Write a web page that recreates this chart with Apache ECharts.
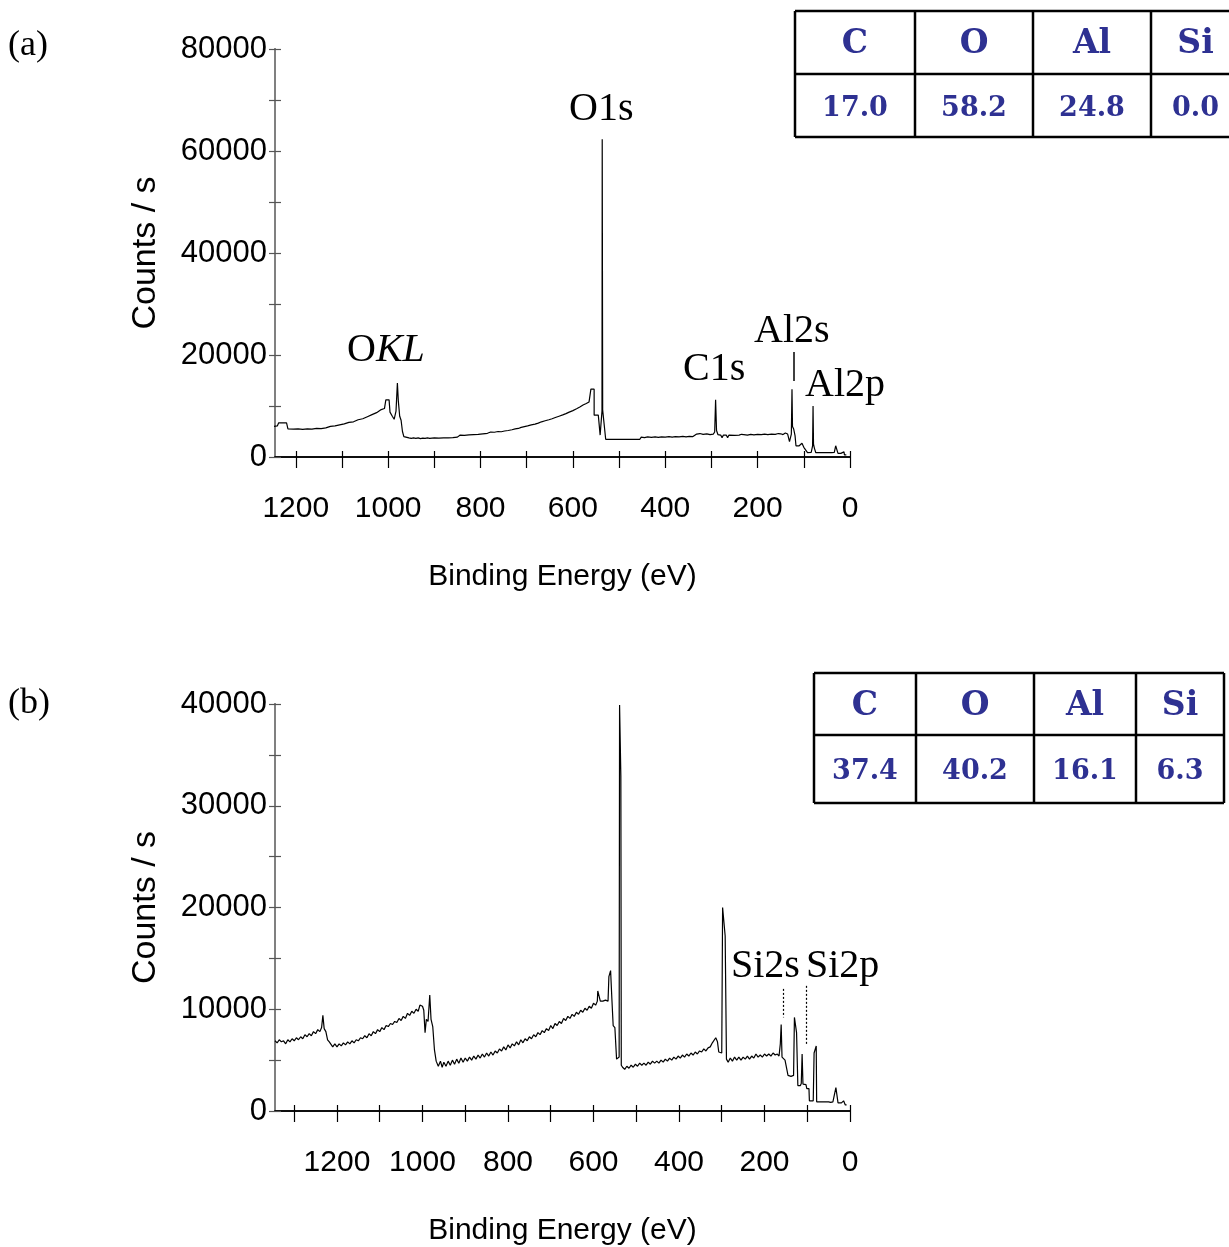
<!DOCTYPE html>
<html>
<head>
<meta charset="utf-8">
<script src="https://cdn.jsdelivr.net/npm/echarts@6/dist/echarts.min.js"></script>
<style>
html,body{margin:0;padding:0;background:#fff;}
#chart{width:1229px;height:1247px;}
</style>
</head>
<body>
<div id="chart"></div>
<script>
// ---------- DATA ----------
// Panel (a): binding energy (eV) vs counts/s
const spectrumA = [
[1248,6000],[1240,6100],[1237,6700],[1226,6700],[1220,6700],[1217,5500],[1205,5450],[1195,5500],[1185,5400],[1175,5500],
[1165,5450],[1155,5600],[1145,5550],[1135,5700],[1125,6000],[1115,6100],[1105,6300],[1095,6500],[1085,6800],[1075,6900],
[1065,7300],[1055,7500],[1045,7900],[1035,8300],[1025,8700],[1015,9300],[1008,9500],[1005,11200],[998,11200],[996,8800],
[991,8000],[987,7400],[983,9000],[980,14500],[978,11000],[975,8000],[972,7200],[969,5000],[966,4000],[962,3700],
[955,3750],[950,3650],[945,3750],[940,3650],[935,3750],[930,3600],[925,3700],[920,3650],[915,3750],[910,3650],
[905,3700],[900,3750],[890,3700],[880,3750],[870,3750],[860,3800],[850,3900],[844,4300],[835,4250],[825,4350],
[815,4400],[805,4450],[795,4550],[785,4650],[778,4900],[770,4850],[762,5000],[755,4950],[748,5100],[740,5200],
[732,5350],[725,5500],[718,5600],[712,5800],[705,5950],[698,6100],[690,6300],[682,6450],[675,6650],[668,6900],
[660,7100],[652,7300],[645,7500],[638,7750],[630,8000],[622,8250],[615,8500],[608,8800],[600,9100],[592,9450],
[585,9800],[578,10200],[571,10500],[565,10800],[561,11000],[561,13300],[554,13300],[554,8200],[545,8200],[541,4300],
[537,9000],[536.5,62300],[535.5,9200],[529,3470],[520,3470],[500,3470],[480,3470],[455,3470],[452,3900],[445,3800],
[438,3950],[430,3850],[422,3950],[415,3850],[408,3950],[400,3900],[392,4000],[385,3900],[378,4000],[370,3950],
[362,4050],[355,3950],[348,4050],[340,4000],[332,4500],[325,4600],[318,4450],[310,4550],[303,4400],[296,4500],
[293,4900],[291,11200],[289,5200],[286,4400],[280,4300],[277,3800],[274,4300],[268,4300],[265,3800],[262,4300],
[250,4250],[240,4300],[235,4450],[230,4400],[222,4300],[215,4450],[208,4350],[200,4450],[192,4400],[185,4500],
[178,4400],[170,4500],[162,4450],[155,4600],[150,4550],[145,4400],[140,4700],[135,4500],[131,3000],[128,3000],
[127,4500],[125.6,13300],[124.5,6000],[122,5500],[119,4200],[117,2200],[110,2200],[106,2200],[104,2700],[101,2700],
[100,1900],[96,1800],[92,850],[88,850],[84,900],[81,2200],[80,10000],[79,2500],[77,1700],[74,840],
[60,840],[40,840],[34,900],[31,2200],[28,2200],[26,720],[20,720],[18,1000],[13,1000],[12,400],[8,400]
];
// Panel (b)
const spectrumB = [
[1345,6900],[1340,6700],[1335,7000],[1330,6800],[1325,6900],[1320,6600],[1315,7000],[1310,6800],[1305,7100],[1300,6900],
[1295,7200],[1290,7000],[1285,7300],[1280,7100],[1275,7500],[1270,7300],[1265,7600],[1260,7400],[1255,7800],[1250,7600],
[1245,8000],[1240,7800],[1236,8200],[1233,9400],[1230,8100],[1226,7800],[1222,7000],[1218,6800],[1214,6700],[1210,6300],
[1205,6600],[1200,6300],[1195,6600],[1190,6400],[1185,6700],[1180,6500],[1175,6800],[1170,6600],[1165,6900],[1160,6700],
[1155,7000],[1150,6900],[1145,7200],[1140,7100],[1135,7400],[1130,7200],[1125,7600],[1120,7400],[1115,7800],[1110,7600],
[1105,8000],[1100,7800],[1095,8200],[1090,8000],[1085,8400],[1080,8300],[1075,8600],[1070,8500],[1065,8800],[1060,8700],
[1055,9100],[1050,8900],[1045,9300],[1040,9100],[1035,9600],[1030,9400],[1025,9800],[1020,9600],[1015,10000],[1010,9800],
[1006,10400],[1000,10300],[997,9900],[994,7700],[991,9000],[987,8800],[983,11400],[980,9000],[976,8300],[972,6000],
[968,4900],[963,4400],[958,4900],[954,4300],[950,4800],[945,4400],[940,4900],[935,4500],[930,5000],[925,4600],
[920,5100],[915,4700],[910,5200],[905,4800],[900,5200],[895,4900],[890,5300],[885,5000],[880,5400],[875,5100],
[870,5500],[865,5200],[860,5600],[855,5300],[850,5700],[845,5400],[840,5800],[835,5500],[830,5900],[825,5700],
[820,6100],[815,5900],[810,6300],[805,6000],[800,6500],[795,6200],[790,6600],[785,6400],[780,6800],[775,6500],
[770,7000],[765,6700],[760,7100],[755,6900],[750,7300],[745,7100],[740,7500],[735,7300],[730,7700],[725,7500],
[720,7900],[715,7700],[710,8100],[705,7900],[700,8400],[695,8100],[690,8600],[685,8400],[680,8800],[675,8600],
[670,9100],[665,8900],[660,9300],[655,9100],[650,9500],[645,9300],[640,9700],[635,9500],[630,9900],[625,9700],
[620,10100],[615,9900],[610,10300],[605,10100],[600,10600],[595,10400],[591,10800],[590,11800],[586,11800],[584,10800],
[578,10800],[572,10900],[566,10800],[564,13200],[560,13800],[557,11000],[554,8400],[550,8200],[546,5100],[542,5000],
[540,5300],[539,39900],[536,32900],[535,4500],[532,4300],[527,4100],[522,4400],[517,4200],[512,4500],[507,4300],
[502,4600],[497,4400],[492,4700],[487,4500],[482,4700],[477,4500],[472,4800],[467,4600],[462,4900],[457,4700],
[452,4900],[447,4700],[442,5000],[437,4800],[432,5100],[427,4900],[422,5200],[417,5000],[412,5300],[407,5100],
[402,5400],[397,5200],[392,5500],[387,5300],[382,5600],[377,5400],[372,5700],[367,5500],[362,5800],[357,5600],
[352,5900],[347,5800],[342,6100],[337,5900],[332,6200],[327,6300],[322,6700],[318,6600],[314,7200],[310,6800],
[307,5800],[303,5700],[300,5700],[298,20000],[292,17200],[289,5100],[285,4800],[280,5200],[275,4900],[270,5300],
[265,5000],[260,5300],[255,5000],[250,5300],[245,5100],[240,5400],[235,5100],[230,5400],[225,5200],[220,5600],
[215,5300],[210,5500],[205,5300],[200,5600],[195,5400],[190,5600],[185,5400],[180,5700],[175,5500],[170,5600],
[166,5400],[163,6600],[161,8500],[159,5300],[155,5300],[152,5000],[148,5000],[145,3500],[138,3400],[132,3500],
[130,9200],[125,7700],[122,2500],[116,2500],[114,2700],[112,5600],[110,2650],[103,2600],[101,2200],[96,2200],
[95,1000],[86,1000],[84,5700],[79,6400],[78,900],[60,900],[50,900],[45,850],[40,900],[36,950],
[33,2300],[30,2300],[28,800],[20,800],[18,700],[15,1000],[12,1000],[11,600],[8,600]
];
const xMaxA = 1245, xMaxB = 1345;
const yMaxA = 80000, yMaxB = 40000;
const xTicksA = [0,100,200,300,400,500,600,700,800,900,1000,1100,1200];
const xTicksB = [0,100,200,300,400,500,600,700,800,900,1000,1100,1200,1300];
const xLabels = [0,200,400,600,800,1000,1200];
const yTicksA = [0,10000,20000,30000,40000,50000,60000,70000,80000];
const yLabelsA = [0,20000,40000,60000,80000];
const yTicksB = [0,5000,10000,15000,20000,25000,30000,35000,40000];
const yLabelsB = [0,10000,20000,30000,40000];

// composition tables (at.%)
const elements = ['C','O','Al','Si'];
const compA = ['17.0','58.2','24.8','0.0'];
const compB = ['37.4','40.2','16.1','6.3'];

// peak labels
const peakLabelsA = ['O1s','OKL','C1s','Al2s','Al2p'];
const peakLabelsB = ['Si2s','Si2p'];

// ---------- CHART ----------
const chart = echarts.init(document.getElementById('chart'), null, {renderer:'canvas'});
const sansFont = '"Liberation Sans",Arial,sans-serif';
const serifFont = '"Liberation Serif","Times New Roman",serif';
const navy = '#2e3192';

function xAxisPair(gridIndex, max, ticks){
  const base = {
    type:'value', gridIndex, min:0, max, interval:100, inverse:true, position:'bottom',
    splitLine:{show:false},
    axisLine:{show:true, onZero:false, lineStyle:{color:'#000', width:1.5}},
  };
  return [
    Object.assign({}, base, {
      axisTick:{show:true, inside:false, length:11, customValues:ticks, lineStyle:{color:'#000', width:1.2}},
      axisLabel:{show:true, margin:37, customValues:xLabels, fontFamily:sansFont, fontSize:30, color:'#000',
        formatter:v => (xLabels.indexOf(v) >= 0 ? String(v) : '')},
      name:'Binding Energy (eV)', nameLocation:'middle', nameGap:105,
      nameTextStyle:{fontFamily:sansFont, fontSize:30, color:'#000'}
    }),
    Object.assign({}, base, {
      axisTick:{show:true, inside:true, length:6, customValues:ticks, lineStyle:{color:'#000', width:1.2}},
      axisLabel:{show:false}
    })
  ];
}
function yAxisPair(gridIndex, max, step, ticks, labels){
  const base = {
    type:'value', gridIndex, min:0, max, interval:step, position:'left',
    splitLine:{show:false},
    axisLine:{show:true, onZero:false, lineStyle:{color:'#808080', width:2}},
  };
  return [
    Object.assign({}, base, {
      axisTick:{show:true, inside:false, length:6, customValues:ticks, lineStyle:{color:'#555', width:1.2}},
      axisLabel:{show:true, margin:8, customValues:labels, fontFamily:sansFont, fontSize:31, color:'#000',
        formatter:v => (labels.indexOf(v) >= 0 ? String(v) : '')},
      name:'Counts / s', nameLocation:'middle', nameGap:112,
      nameTextStyle:{fontFamily:sansFont, fontSize:34, color:'#000'}
    }),
    Object.assign({}, base, {
      axisTick:{show:true, inside:true, length:6, customValues:ticks, lineStyle:{color:'#555', width:1.2}},
      axisLabel:{show:false}
    })
  ];
}

// table graphics
function tableGraphic(cols, rows, headers, values){
  const els = [];
  const lw = 2.5;
  const x0 = cols[0], x1 = cols[cols.length-1], y0 = rows[0], y2 = rows[rows.length-1];
  rows.forEach(y => els.push({type:'line', shape:{x1:x0, y1:y, x2:x1, y2:y}, style:{stroke:'#000', lineWidth:lw}}));
  cols.forEach(x => els.push({type:'line', shape:{x1:x, y1:y0, x2:x, y2:y2}, style:{stroke:'#000', lineWidth:lw}}));
  for (let i=0;i<headers.length;i++){
    const cx = (cols[i]+cols[i+1])/2;
    els.push({type:'text', x:cx, y:(rows[0]+rows[1])/2+2, style:{text:headers[i], fill:navy,
      font:'bold 33px "DejaVu Serif",serif', textAlign:'center', textVerticalAlign:'middle'}});
    els.push({type:'text', x:cx, y:(rows[1]+rows[2])/2+3, style:{text:values[i], fill:navy,
      font:'bold 27px "DejaVu Serif",serif', textAlign:'center', textVerticalAlign:'middle'}});
  }
  return els;
}

function label(text, x, y){
  return {type:'text', x, y, style:{text, fill:'#000', font:'40px '+serifFont, textVerticalAlign:'middle'}};
}

const graphics = [].concat(
  tableGraphic([795,915,1033,1151,1240],[11,74,137], elements, compA),
  tableGraphic([814,916,1034,1136,1224],[673,735,803], elements, compB),
  [
    {type:'text', x:8, y:46, style:{text:'(a)', fill:'#000', font:'36px '+serifFont, textVerticalAlign:'middle'}},
    {type:'text', x:8, y:704, style:{text:'(b)', fill:'#000', font:'36px '+serifFont, textVerticalAlign:'middle'}},
    label(peakLabelsA[0], 569, 109),
    {type:'text', x:347, y:350, style:{text:'O{i|KL}', fill:'#000', font:'40px '+serifFont, textVerticalAlign:'middle',
       rich:{i:{fontFamily:serifFont, fontSize:40, fontStyle:'italic', fill:'#000'}}}},
    label(peakLabelsA[2], 683, 369),
    label(peakLabelsA[3], 754, 331),
    label(peakLabelsA[4], 805, 385),
    label(peakLabelsB[0], 731, 966),
    label(peakLabelsB[1], 806, 966)
  ]
);

const option = {
  animation:false,
  backgroundColor:'#fff',
  grid:[
    {left:275, right:379, top:49, height:408, containLabel:false},
    {left:275, right:379, top:704, height:408, containLabel:false}
  ],
  xAxis:[].concat(xAxisPair(0, xMaxA, xTicksA), xAxisPair(1, xMaxB, xTicksB)),
  yAxis:[].concat(yAxisPair(0, yMaxA, 10000, yTicksA, yLabelsA), yAxisPair(1, yMaxB, 5000, yTicksB, yLabelsB)),
  series:[
    {type:'line', xAxisIndex:0, yAxisIndex:0, data:spectrumA, showSymbol:false, symbol:'none',
     lineStyle:{color:'#000', width:1.2}, z:3,
     markLine:{silent:true, symbol:'none', label:{show:false}, lineStyle:{color:'#000', width:1.5, type:'solid'},
       data:[[{coord:[122,20600]},{coord:[122,14900]}]]}},
    {type:'line', xAxisIndex:2, yAxisIndex:2, data:spectrumB, showSymbol:false, symbol:'none',
     lineStyle:{color:'#000', width:1.2}, z:3,
     markLine:{silent:true, symbol:'none', label:{show:false}, lineStyle:{color:'#000', width:1.2, type:[2,2]},
       data:[[{coord:[155,12000]},{coord:[155,9200]}],[{coord:[102,12300]},{coord:[102,6500]}]]}}
  ],
  graphic:graphics
};
chart.setOption(option);
</script>
</body>
</html>
